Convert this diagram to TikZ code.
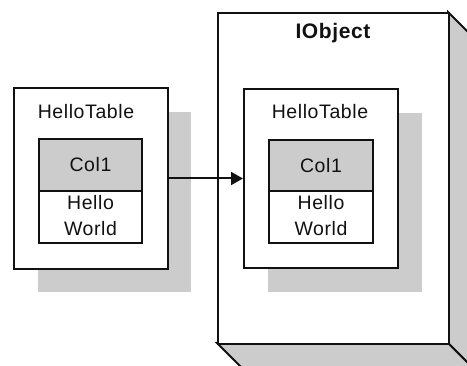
\documentclass[tikz,border=0pt]{standalone}
\usepackage{fontspec}
\setmainfont{Liberation Sans}[LetterSpace=3]
\usetikzlibrary{arrows.meta}
\definecolor{shade}{HTML}{CCCCCC}
\definecolor{ink}{HTML}{111111}
\begin{document}
\begin{tikzpicture}[x=1pt,y=-1pt,
  box/.style={draw=ink,line width=2pt,fill=white,inner sep=0pt,anchor=north west},
  shadowbox/.style={fill=shade,draw=none,inner sep=0pt,anchor=north west},
  lbl/.style={font=\fontsize{19.5}{25.5}\selectfont,text=ink,inner sep=0pt,align=center},
  conn/.style={draw=ink,line width=2pt,-{Triangle[length=12pt,width=13pt]}}]
\useasboundingbox (0,0) rectangle (467,366);
\clip (0,0) rectangle (467,366);
% IObject 3D box
\filldraw[fill=shade,draw=ink,line width=2pt] (448,12) -- (474,38) -- (474,369) -- (448,343) -- cycle;
\filldraw[fill=shade,draw=ink,line width=2pt] (217,343) -- (243,369) -- (474,369) -- (448,343) -- cycle;
\node[box,minimum width=231pt,minimum height=331pt] (io) at (217,12) {};
\node[lbl,font=\fontsize{21}{26}\selectfont\bfseries] (iot) at (333,33) {IObject};
% left table
\node[shadowbox,minimum width=153pt,minimum height=180pt] (ls) at (38,112) {};
\node[box,minimum width=154pt,minimum height=181pt] (lt) at (13,87) {};
\node[lbl] (ltt) at (86,112) {HelloTable};
\node[box,fill=shade,minimum width=103pt,minimum height=52pt] (lh) at (38,138) {};
\node[box,minimum width=103pt,minimum height=52pt] (lb) at (38,190) {};
\node[lbl] (lht) at (lh.center) {Col1};
\node[lbl] (lbt) at ([yshift=1.5pt]lb.center) {Hello\\World};
% right table
\node[shadowbox,minimum width=154pt,minimum height=179pt] (rs) at (268,113) {};
\node[box,minimum width=154pt,minimum height=179pt] (rt) at (243,88) {};
\node[lbl] (rtt) at (320,112) {HelloTable};
\node[box,fill=shade,minimum width=104pt,minimum height=51pt] (rh) at (268,139) {};
\node[box,minimum width=104pt,minimum height=52pt] (rb) at (268,190) {};
\node[lbl] (rht) at (rh.center) {Col1};
\node[lbl] (rbt) at ([yshift=1.5pt]rb.center) {Hello\\World};
% connector
\draw[conn] (lt.east) -- (rt.west);
\end{tikzpicture}
\end{document}
